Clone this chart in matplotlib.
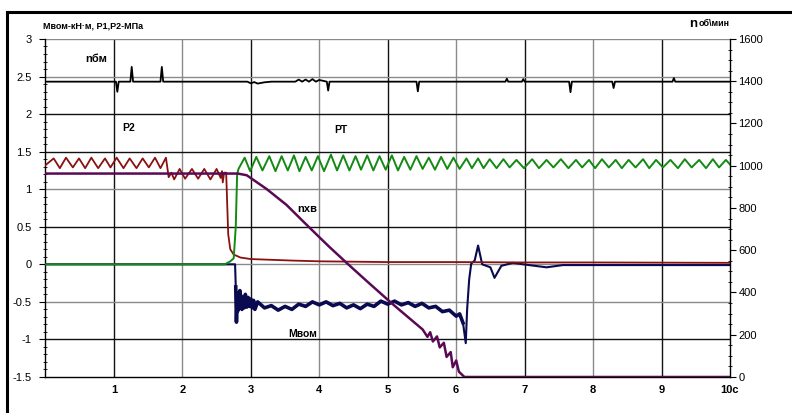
import matplotlib
matplotlib.use("Agg")
import matplotlib.pyplot as plt
from matplotlib.patches import Rectangle
from matplotlib.ticker import MultipleLocator

plt.rcParams['font.family'] = ['Liberation Sans', 'DejaVu Sans']

# --- data ---
# P2, MPa (dark red)
p2_t = [0.0, 0.12, 0.21, 0.30, 0.40, 0.49, 0.58, 0.67, 0.77, 0.87, 0.95, 1.04, 1.14,
        1.23, 1.33, 1.42, 1.51, 1.60, 1.68, 1.76, 1.80, 1.84, 1.88, 1.96, 2.04, 2.14,
        2.23, 2.32, 2.41, 2.50, 2.56, 2.58, 2.59, 2.61, 2.64, 2.655, 2.67, 2.70, 2.75,
        2.85, 3.0, 3.3, 3.6, 4.0, 4.5, 5.0, 6.0, 7.0, 8.0, 10.0]
p2_v = [1.32, 1.41, 1.28, 1.42, 1.29, 1.41, 1.28, 1.42, 1.28, 1.41, 1.29, 1.42, 1.28,
        1.41, 1.28, 1.41, 1.29, 1.42, 1.28, 1.42, 1.16, 1.22, 1.13, 1.27, 1.14, 1.27,
        1.14, 1.27, 1.13, 1.27, 1.15, 1.24, 1.09, 1.22, 1.22, 0.80, 0.40, 0.20, 0.13,
        0.09, 0.07, 0.06, 0.05, 0.04, 0.035, 0.03, 0.03, 0.025, 0.025, 0.02]

# PT, MPa (green): start, then peaks / troughs
pt_start_t = [0.0, 2.62, 2.70, 2.75, 2.78, 2.80, 2.82]
pt_start_v = [0.0, 0.0, 0.04, 0.08, 0.5, 1.20, 1.27]
pt_peak_t = [2.91, 3.08, 3.27, 3.45, 3.63, 3.80, 3.98, 4.17, 4.35, 4.53, 4.70, 4.88,
             5.06, 5.24, 5.42, 5.60, 5.78, 5.96, 6.15, 6.32, 6.49, 6.69, 6.88, 7.11,
             7.32, 7.53, 7.75, 7.94, 8.13, 8.33, 8.52, 8.73, 8.92, 9.13, 9.34, 9.55,
             9.75, 9.94]
pt_peak_v = [1.42, 1.43, 1.44, 1.44, 1.45, 1.43, 1.44, 1.46, 1.45, 1.44, 1.45, 1.44,
             1.45, 1.43, 1.44, 1.42, 1.43, 1.42, 1.41, 1.41, 1.40, 1.40, 1.39, 1.40,
             1.39, 1.40, 1.39, 1.39, 1.40, 1.39, 1.39, 1.40, 1.39, 1.39, 1.40, 1.39,
             1.40, 1.39]
pt_trough_t = [2.99, 3.17, 3.36, 3.54, 3.71, 3.89, 4.07, 4.26, 4.44, 4.61, 4.79, 4.97,
               5.15, 5.33, 5.51, 5.69, 5.87, 6.05, 6.23, 6.40, 6.59, 6.78, 6.99, 7.21,
               7.42, 7.64, 7.84, 8.03, 8.23, 8.42, 8.62, 8.82, 9.02, 9.24, 9.44, 9.65,
               9.84, 10.0]
pt_trough_v = [1.24, 1.25, 1.24, 1.25, 1.24, 1.25, 1.24, 1.25, 1.25, 1.26, 1.25, 1.26,
               1.25, 1.26, 1.27, 1.26, 1.27, 1.27, 1.28, 1.28, 1.28, 1.29, 1.28, 1.28,
               1.29, 1.28, 1.29, 1.28, 1.29, 1.28, 1.29, 1.28, 1.29, 1.28, 1.29, 1.28,
               1.29, 1.33]

# Mвом, kN*m (navy)
m_t = [0.0, 2.77, 2.78, 2.79, 2.80, 2.81, 2.82, 2.83, 2.84, 2.85, 2.86, 2.87, 2.88,
       2.90, 2.92, 2.94, 2.96, 2.98, 3.00, 3.02, 3.04, 3.06, 3.10, 3.20, 3.30, 3.40,
       3.50, 3.60, 3.70, 3.80, 3.90, 4.00, 4.10, 4.20, 4.30, 4.40, 4.50, 4.60, 4.70,
       4.80, 4.90, 5.00, 5.10, 5.20, 5.30, 5.40, 5.50, 5.60, 5.70, 5.80, 5.90, 6.00,
       6.05, 6.10, 6.14, 6.16, 6.19, 6.22, 6.27, 6.32, 6.38, 6.50, 6.56, 6.66, 6.83,
       6.98, 7.32, 7.56, 10.0]
m_v = [0.0, 0.0, -0.30, -0.77, -0.45, -0.62, -0.38, -0.58, -0.35, -0.55, -0.42, -0.60,
       -0.45, -0.58, -0.40, -0.57, -0.44, -0.56, -0.46, -0.58, -0.48, -0.60, -0.50,
       -0.58, -0.55, -0.61, -0.56, -0.60, -0.53, -0.56, -0.50, -0.54, -0.50, -0.55,
       -0.52, -0.58, -0.54, -0.59, -0.53, -0.56, -0.49, -0.53, -0.49, -0.54, -0.51,
       -0.56, -0.52, -0.58, -0.56, -0.63, -0.61, -0.69, -0.66, -0.78, -1.05, -0.60,
       -0.20, 0.01, 0.05, 0.25, 0.0, -0.04, -0.18, -0.02, 0.02, 0.0, -0.04, -0.01,
       -0.01]

# n хв, rpm (purple)
nxv_t = [0.0, 2.81, 2.94, 3.23, 3.52, 3.76, 4.00, 4.15, 4.40, 4.69, 5.03, 5.17, 5.51,
         5.58, 5.62, 5.66, 5.72, 5.76, 5.82, 5.86, 5.92, 5.95, 6.00, 6.04, 6.12, 10.0]
nxv_v = [963, 963, 955, 890, 815, 738, 662, 615, 540, 455, 357, 318, 225,
         190, 212, 168, 192, 140, 162, 95, 118, 46, 78, 25, 0, 0]

# n бм, rpm (black)
nbm_t = [0.0, 1.03, 1.05, 1.07, 1.24, 1.26, 1.28, 1.68, 1.70, 1.72, 2.95, 3.0, 3.05,
         3.1, 3.2, 3.3, 3.65, 3.7, 3.75, 3.8, 3.85, 3.9, 3.95, 4.0, 4.11, 4.13, 4.15,
         5.42, 5.44, 5.46, 6.72, 6.74, 6.76, 6.96, 6.98, 7.0, 7.65, 7.67, 7.69, 8.28,
         8.30, 8.32, 9.16, 9.18, 9.20, 10.0]
nbm_v = [1398, 1398, 1350, 1398, 1398, 1468, 1398, 1398, 1468, 1398, 1398, 1390, 1396,
         1389, 1395, 1398, 1398, 1408, 1398, 1408, 1398, 1410, 1398, 1406, 1398, 1356,
         1398, 1398, 1352, 1398, 1398, 1412, 1398, 1398, 1410, 1398, 1398, 1348, 1398,
         1398, 1368, 1398, 1398, 1415, 1398, 1398]

x_ticks = [1, 2, 3, 4, 5, 6, 7, 8, 9, 10]
x_labels = ['1', '2', '3', '4', '5', '6', '7', '8', '9', '10c']

# assemble PT series
pt_t = list(pt_start_t)
pt_v = list(pt_start_v)
for a, b, c, d in zip(pt_peak_t, pt_peak_v, pt_trough_t, pt_trough_v):
    pt_t += [a, c]
    pt_v += [b, d]

fig = plt.figure(figsize=(7.92, 4.13), dpi=100)
ax = fig.add_axes([0.0574, 0.0872, 0.8643, 0.8184])
ax2 = ax.twinx()

# noisy load phase drawn heavier than the quiet parts, as in the scan
noisy = slice(2, 54)
ax.plot(m_t, m_v, color='#0a0a50', lw=1.5, zorder=2)
ax.plot(m_t[noisy], m_v[noisy], color='#0a0a50', lw=2.6, zorder=2)
ax.plot(p2_t, p2_v, color='#8b1010', lw=1.3, zorder=3)
ax.plot(pt_t, pt_v, color='#138a13', lw=1.4, zorder=4)
ax2.plot(nxv_t, nxv_v, color='#5a0a55', lw=1.8)
ax2.plot(nbm_t, nbm_v, color='black', lw=1.3)

ax.set_xlim(0, 10)
ax.set_ylim(-1.5, 3)
ax2.set_ylim(0, 1600)

ax.set_xticks(x_ticks)
ax.set_xticklabels(x_labels, fontsize=8, fontweight='bold')
ax.tick_params(axis='x', length=0, pad=6)
ax.yaxis.set_major_locator(MultipleLocator(0.5))
ax.yaxis.set_minor_locator(MultipleLocator(0.1))
ax.set_yticks(ax.get_yticks())
ax.set_yticklabels([('%g' % v) for v in ax.get_yticks()], fontsize=8)
ax.set_ylim(-1.5, 3)
ax.tick_params(axis='y', which='major', direction='out', length=4, pad=6)
ax.tick_params(axis='y', which='minor', direction='inout', length=3)

ax2.yaxis.set_major_locator(MultipleLocator(200))
ax2.yaxis.set_minor_locator(MultipleLocator(50))
ax2.tick_params(axis='y', which='major', direction='out', length=4, pad=2, labelsize=8)
ax2.tick_params(axis='y', which='minor', direction='inout', length=3)

# grid: alternating dark / grey like the scan
for i, v in enumerate(x_ticks[:-1]):
    ax.axvline(v, color='#111111' if i % 2 == 0 else '#8a8a8a', lw=1.0, zorder=1)
hcols = ['#111111', '#8a8a8a', '#8a8a8a', '#111111', '#8a8a8a', '#111111',
         '#111111', '#8a8a8a', '#8a8a8a']
for c, v in zip(hcols[::-1], [-1.0, -0.5, 0, 0.5, 1.0, 1.5, 2.0, 2.5, 3.0][::-1]):
    ax.axhline(v, color=c, lw=1.0, zorder=1)

for a in (ax, ax2):
    a.spines['top'].set_visible(False)
ax2.spines['left'].set_visible(False)
ax2.spines['bottom'].set_visible(False)
ax.spines['right'].set_visible(False)
ax.spines['left'].set_linewidth(1.0)
ax.spines['bottom'].set_linewidth(1.0)
ax2.spines['right'].set_linewidth(1.0)

# in-plot labels
ax.text(0.58, 2.70, 'nбм', fontsize=8, fontweight='bold')
ax.text(1.12, 1.77, 'Р2', fontsize=7.5, fontweight='bold')
ax.text(4.22, 1.75, 'РТ', fontsize=7.5, fontweight='bold')
ax.text(3.68, 0.70, 'nхв', fontsize=8, fontweight='bold')
ax.text(3.55, -0.97, 'Мвом', fontsize=7.5, fontweight='bold')

fig.text(43 / 792, 1 - 26 / 413, 'Мвом-кН·м, Р1,Р2-МПа', fontsize=6.5,
         fontweight='bold', va='center')
fig.text(689 / 792, 1 - 24 / 413, 'n', fontsize=9.5, fontweight='bold', va='center')
fig.text(699 / 792, 1 - 24 / 413, 'об\\мин', fontsize=6.5, fontweight='bold',
         va='center')

fig.patches.append(Rectangle((7 / 792, -0.1), 1.2, 1.1 - 12 / 413, fill=False,
                             lw=2.2, ec='black', transform=fig.transFigure))

fig.savefig('out.png', dpi=100)
